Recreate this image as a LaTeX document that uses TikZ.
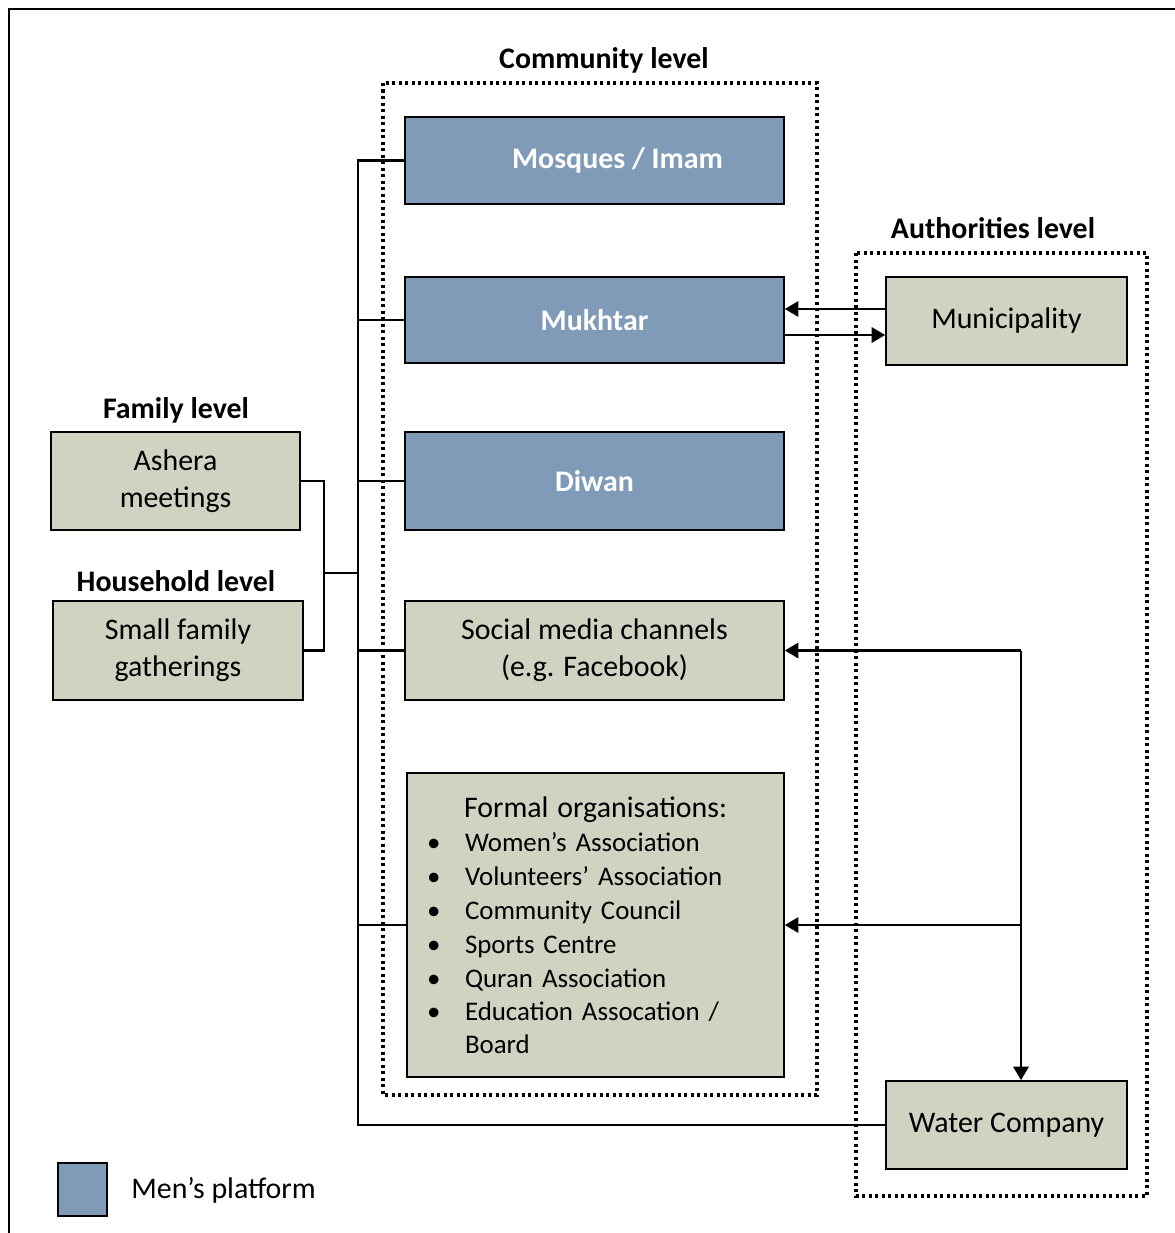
\documentclass[tikz,border=0pt]{standalone}
\usepackage{fontspec}
\setmainfont{Carlito}
\usetikzlibrary{arrows.meta}
\definecolor{menblue}{HTML}{7F9BB7}
\definecolor{boxgrey}{HTML}{D1D2C2}
\tikzset{
  px/.style={x=0.02cm,y=-0.02cm},
  basebox/.style={draw=black, line width=0.9pt, inner sep=0pt, font=\fontsize{17}{21}\selectfont, align=center},
  menbox/.style={basebox, fill=menblue, text=white, font=\fontsize{17}{21}\selectfont\bfseries},
  greybox/.style={basebox, fill=boxgrey},
  heading/.style={inner sep=0pt, font=\fontsize{17}{21}\selectfont\bfseries},
  levelframe/.style={line width=1.8pt, dash pattern=on 1.8pt off 1.9pt},
  conn/.style={line width=1.6pt},
  arr/.style={line width=1.6pt, -{Triangle[length=0.27cm,width=0.3cm]}},
}
\begin{document}
\begin{tikzpicture}[px]
\useasboundingbox (0,0) rectangle (1175,1233);
% outer frame (cut by the page edge)
\draw[line width=1.7pt] (9,1240) -- (9,9) -- (1180,9);

% level frames
\draw[levelframe] (383,83) rectangle (817,1095);
\draw[levelframe] (856,253) rectangle (1147,1196);

% headings
\node[heading] (hcomm) at (604,60) {Community level};
\node[heading] (hauth) at (993,228) {Authorities level};
\node[heading] (hfam) at (176,410) {Family level};
\node[heading] (hhouse) at (176,581) {Household level};

% community boxes
\node[menbox, minimum width=7.58cm, minimum height=1.74cm] (mosq) at (594.5,160.5) {\hspace*{0.92cm}Mosques / Imam};
\node[menbox, minimum width=7.58cm, minimum height=1.72cm] (mukh) at (594.5,320) {Mukhtar};
\node[menbox, minimum width=7.58cm, minimum height=1.96cm] (diwan) at (594.5,481) {Diwan};
\node[greybox, minimum width=7.58cm, minimum height=1.98cm] (social) at (594.5,650.5) {Social media channels\\(e.g. Facebook)};
\node[greybox, minimum width=7.54cm, minimum height=6.08cm, text width=7.54cm, align=left,
      font=\fontsize{15.3}{19.3}\selectfont] (formal) at (595.5,925) {%
\hspace*{1.14cm}{\fontsize{17}{19.3}\selectfont Formal organisations:}\\
\hspace*{0.4cm}\makebox[0.76cm][l]{•}Women’s Association\\
\hspace*{0.4cm}\makebox[0.76cm][l]{•}Volunteers’ Association\\
\hspace*{0.4cm}\makebox[0.76cm][l]{•}Community Council\\
\hspace*{0.4cm}\makebox[0.76cm][l]{•}Sports Centre\\
\hspace*{0.4cm}\makebox[0.76cm][l]{•}Quran Association\\
\hspace*{0.4cm}\makebox[0.76cm][l]{•}Education Assocation /\\[-1pt]
\hspace*{1.16cm}Board\\[3pt]};

% authorities boxes
\node[greybox, minimum width=4.82cm, minimum height=1.76cm] (muni) at (1006.5,321) {Municipality};
\node[greybox, minimum width=4.82cm, minimum height=1.76cm] (water) at (1006.5,1125) {Water Company};

% family / household boxes
\node[greybox, minimum width=4.98cm, minimum height=1.96cm] (ashera) at (175.5,481) {Ashera\\meetings};
\node[greybox, minimum width=5.0cm, minimum height=1.98cm] (small) at (178,650.5) {Small family\\gatherings};

% legend
\node[basebox, fill=menblue, minimum width=0.98cm, minimum height=1.06cm] (legbox) at (82.5,1189.5) {};
\node[anchor=west, inner sep=0pt, font=\fontsize{17}{21}\selectfont] (legtext) at (131,1190) {Men’s platform};

% bus coordinates
\coordinate (bustop) at (358,162);
\coordinate (busbot) at (358,1125);
\coordinate (brk) at (324,573);

% bus
\draw[conn] (mosq.west) -| (busbot) -- (water.west);
\draw[conn] (mukh.west) -- (mukh.west -| bustop);
\draw[conn] (diwan.west) -- (diwan.west -| bustop);
\draw[conn] (social.west) -- (social.west -| bustop);
\draw[conn] (formal.west) -- (formal.west -| bustop);

% family bracket
\draw[conn] (ashera.east) -| (brk) |- (small.east);
\draw[conn] (brk) -- (brk -| bustop);

% mukhtar <-> municipality
\coordinate (ya) at (0,309);
\coordinate (yb) at (0,335);
\draw[arr] (muni.west |- ya) -- (mukh.east |- ya);
\draw[arr] (mukh.east |- yb) -- (muni.west |- yb);

% water company links
\coordinate (jt) at (1021,650.5);
\draw[arr] (jt) -- (social.east);
\draw[arr] (jt) -- (jt |- water.north);
\draw[arr] (jt |- formal.east) -- (formal.east);
\end{tikzpicture}
\end{document}
